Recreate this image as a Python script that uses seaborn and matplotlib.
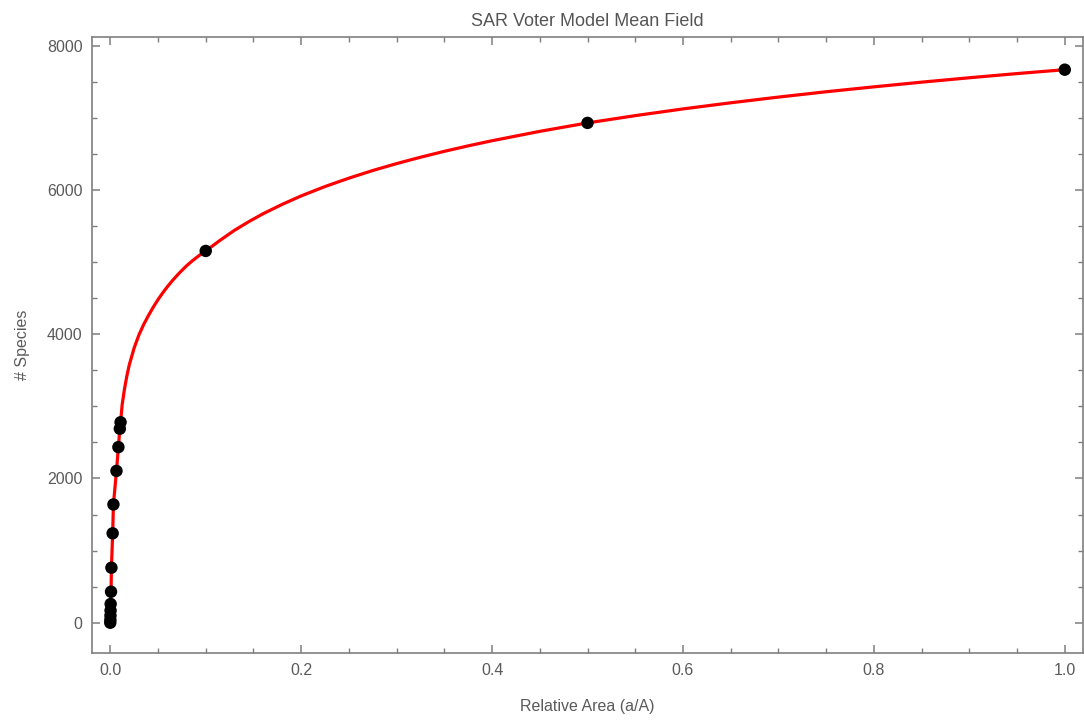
import matplotlib
matplotlib.use("Agg")
import matplotlib.pyplot as plt
import seaborn as sns
import pandas as pd
from matplotlib.ticker import MultipleLocator

# Data points
area_pts = [0.0, 0.0001, 0.0002, 0.0003, 0.0004, 0.0008, 0.0012, 0.0025, 0.0033,
            0.0065, 0.0085, 0.0100, 0.0108, 0.1, 0.5, 1.0]
species_pts = [0, 40, 100, 170, 260, 430, 763, 1240, 1640,
               2105, 2435, 2690, 2780, 5155, 6930, 7668]

# Mean-field curve
area_curve = [0.0, 0.0001, 0.0002, 0.0003, 0.0004, 0.0008, 0.0012, 0.0025, 0.0033,
              0.0065, 0.0085, 0.0100, 0.0108, 0.0125, 0.015, 0.0175, 0.02, 0.025,
              0.03, 0.035, 0.04, 0.045, 0.05, 0.055, 0.06, 0.065, 0.07, 0.075,
              0.08, 0.085, 0.09, 0.095, 0.1, 0.115, 0.13, 0.145, 0.16, 0.18, 0.2,
              0.225, 0.25, 0.275, 0.3, 0.325, 0.35, 0.375, 0.4, 0.45, 0.5, 0.55,
              0.6, 0.65, 0.7, 0.75, 0.8, 0.85, 0.9, 0.95, 1.0]
species_curve = [0, 40, 100, 170, 260, 430, 763, 1240, 1640,
                 2105, 2435, 2690, 2780, 3030, 3250, 3430, 3580, 3810,
                 3990, 4135, 4260, 4375, 4480, 4575, 4662, 4742, 4816, 4885,
                 4950, 5007, 5060, 5110, 5155, 5302, 5440, 5560, 5670, 5800, 5918,
                 6048, 6164, 6270, 6366, 6454, 6536, 6612, 6683, 6813, 6930, 7031,
                 7124, 7209, 7288, 7362, 7430, 7495, 7556, 7614, 7668]

title = "SAR Voter Model Mean Field"
xlabel = "Relative Area (a/A)"
ylabel = "# Species"

sns.set_style("ticks")
plt.rcParams['font.family'] = ['Liberation Sans', 'DejaVu Sans']

fig = plt.figure(figsize=(10.84, 7.2), dpi=100)
ax = fig.add_axes([0.085, 0.093, 0.914, 0.856])

curve_df = pd.DataFrame({"area": area_curve, "species": species_curve})
pts_df = pd.DataFrame({"area": area_pts, "species": species_pts})

sns.lineplot(data=curve_df, x="area", y="species", color="#ff0000", linewidth=2.3,
             estimator=None, sort=True, ax=ax, zorder=2)
sns.scatterplot(data=pts_df, x="area", y="species", color="black", s=80,
                edgecolor="none", ax=ax, zorder=3)

ax.set_xlim(-0.019, 1.019)
ax.set_ylim(-420, 8125)

ax.xaxis.set_major_locator(MultipleLocator(0.2))
ax.xaxis.set_minor_locator(MultipleLocator(0.05))
ax.yaxis.set_major_locator(MultipleLocator(2000))
ax.yaxis.set_minor_locator(MultipleLocator(500))
ax.xaxis.set_major_formatter(matplotlib.ticker.FormatStrFormatter('%.1f'))

spine_color = "#7f7f7f"
for s in ax.spines.values():
    s.set_color(spine_color)
    s.set_linewidth(1.2)

ax.tick_params(which="both", direction="in", top=True, right=True,
               color=spine_color, labelcolor="#5a5a5a", labelsize=11.5)
ax.tick_params(which="major", length=6, width=1.1, pad=7)
ax.tick_params(which="minor", length=3.5, width=1.0)

ax.set_title(title, fontsize=13, color="#555555", pad=8)
ax.set_xlabel(xlabel, fontsize=11.5, color="#5a5a5a", labelpad=15)
ax.set_ylabel(ylabel, fontsize=11.5, color="#5a5a5a", labelpad=12)

fig.savefig("out.png", dpi=100)
